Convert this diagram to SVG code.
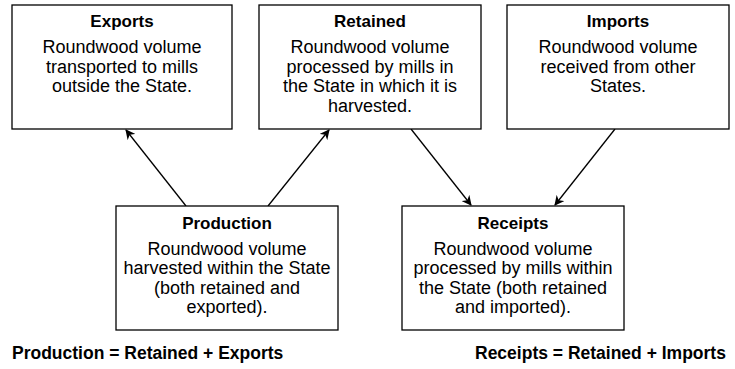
<svg xmlns="http://www.w3.org/2000/svg" width="735" height="369" viewBox="0 0 735 369">
<defs>
<style>
.box{fill:#fff;stroke:#000;stroke-width:1.3}
.t{font-family:"Liberation Sans",Arial,sans-serif;font-size:17px;font-weight:bold;text-anchor:middle;fill:#000}
.b{font-family:"Liberation Sans",Arial,sans-serif;font-size:18px;text-anchor:middle;fill:#000}
.f{font-family:"Liberation Sans",Arial,sans-serif;font-size:17.5px;font-weight:bold;fill:#000}
.c{stroke:#000;stroke-width:1.3;fill:none;marker-end:url(#ah)}
</style>
<marker id="ah" viewBox="0 0 10 10" refX="9" refY="5" markerWidth="10" markerHeight="10" markerUnits="userSpaceOnUse" orient="auto">
<path d="M0,0 L10,5 L0,10 L3,5 z" fill="#000"/>
</marker>
</defs>
<rect width="735" height="369" fill="#fff"/>
<g id="connectors">
<line class="c" x1="186" y1="206" x2="126" y2="130"/>
<line class="c" x1="268" y1="206" x2="329" y2="130"/>
<line class="c" x1="411" y1="129" x2="471" y2="205"/>
<line class="c" x1="615" y1="129" x2="555" y2="205"/>
</g>
<g id="exports">
<rect class="box" x="12" y="5" width="220" height="124"/>
<text class="t" x="122" y="27">Exports</text>
<text class="b" x="122" y="53">Roundwood volume</text>
<text class="b" x="122" y="72.5">transported to mills</text>
<text class="b" x="122" y="92">outside the State.</text>
</g>
<g id="retained">
<rect class="box" x="259" y="5" width="222" height="124"/>
<text class="t" x="370" y="27">Retained</text>
<text class="b" x="370" y="53">Roundwood volume</text>
<text class="b" x="370" y="72.5">processed by mills in</text>
<text class="b" x="370" y="92">the State in which it is</text>
<text class="b" x="370" y="111.5">harvested.</text>
</g>
<g id="imports">
<rect class="box" x="507" y="5" width="222" height="124"/>
<text class="t" x="618" y="27">Imports</text>
<text class="b" x="618" y="53">Roundwood volume</text>
<text class="b" x="618" y="72.5">received from other</text>
<text class="b" x="618" y="92">States.</text>
</g>
<g id="production">
<rect class="box" x="116" y="206" width="222" height="124"/>
<text class="t" x="227" y="229">Production</text>
<text class="b" x="227" y="254.5">Roundwood volume</text>
<text class="b" x="227" y="274">harvested within the State</text>
<text class="b" x="227" y="293.5">(both retained and</text>
<text class="b" x="227" y="313">exported).</text>
</g>
<g id="receipts">
<rect class="box" x="402" y="206" width="222" height="124"/>
<text class="t" x="513" y="229">Receipts</text>
<text class="b" x="513" y="254.5">Roundwood volume</text>
<text class="b" x="513" y="274">processed by mills within</text>
<text class="b" x="513" y="293.5">the State (both retained</text>
<text class="b" x="513" y="313">and imported).</text>
</g>
<g id="formulas">
<text class="f" x="12" y="359">Production = Retained + Exports</text>
<text class="f" x="475" y="359">Receipts = Retained + Imports</text>
</g>
</svg>
